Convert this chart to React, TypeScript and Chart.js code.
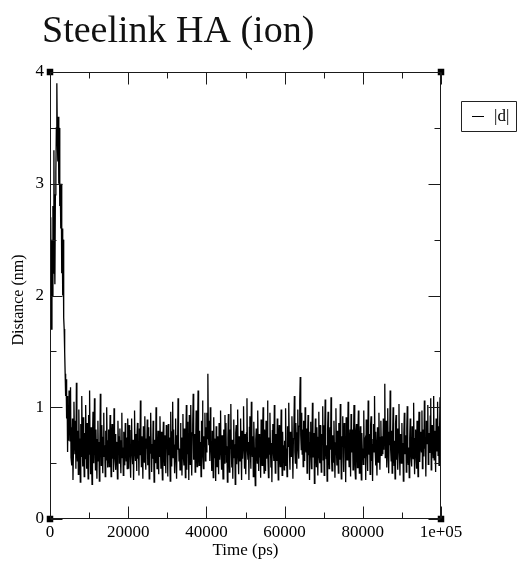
import React, { useEffect, useRef } from 'react';
import { Chart, registerables } from 'chart.js';

Chart.register(...registerables);

const TITLE = 'Steelink HA (ion)';
const X_TITLE = 'Time (ps)';
const Y_TITLE = 'Distance (nm)';
const SERIES_LABEL = '|d|';

const TIME_STEP_PS = 125;
const X_MIN = 0;
const X_MAX = 100000;
const Y_MIN = 0;
const Y_MAX = 4;

const xMajorTicks = [0, 20000, 40000, 60000, 80000, 100000];
const xTickLabels = ['0', '20000', '40000', '60000', '80000', '1e+05'];
const xMinorTicks = [10000, 30000, 50000, 70000, 90000];
const yMajorTicks = [0, 1, 2, 3, 4];
const yTickLabels = ['0', '1', '2', '3', '4'];
const yMinorTicks = [0.5, 1.5, 2.5, 3.5];

// |d| distance (nm), one value every TIME_STEP_PS ps
const distance = [
  // 0 - 4875 ps
  2.3, 1.9, 2.7, 1.7, 2.5, 2.0, 2.8, 2.2, 3.3, 2.4,
  2.1, 2.9, 3.1, 3.5, 3.9, 3.4, 3.2, 3.6, 3.0, 3.5,
  2.8, 3.0, 2.6, 3.0, 2.2, 2.6, 2.0, 2.5, 1.8, 1.7,
  1.5, 1.3, 1.1, 1.25, 0.9, 1.1, 0.6, 1.0, 0.7, 1.15,
  // 5000 - 9875
  0.95, 0.70, 1.18, 0.55, 0.82, 0.48, 0.90, 0.35, 0.62, 1.05,
  0.74, 0.58, 0.88, 0.45, 1.22, 0.66, 0.52, 0.79, 0.40, 0.98,
  0.60, 0.72, 0.33, 0.85, 0.56, 1.10, 0.68, 0.47, 0.91, 0.63,
  0.38, 0.77, 0.54, 1.02, 0.70, 0.45, 0.86, 0.59, 0.36, 0.93,
  // 10000 - 14875
  0.58, 1.15, 0.64, 0.40, 0.82, 0.55, 0.31, 0.73, 0.96, 0.61,
  0.50, 1.08, 0.67, 0.44, 0.80, 0.57, 0.36, 0.71, 0.88, 0.52,
  0.69, 0.34, 0.62, 1.12, 0.75, 0.48, 0.84, 0.59, 0.41, 0.73,
  0.95, 0.56, 0.66, 0.38, 0.79, 0.53, 1.00, 0.63, 0.46, 0.70,
  // 15000 - 19875
  0.80, 0.47, 0.65, 0.93, 0.60, 0.38, 0.72, 0.85, 0.54, 0.66,
  0.42, 0.99, 0.61, 0.53, 0.76, 0.44, 0.69, 0.58, 0.36, 0.88,
  0.63, 0.74, 0.50, 0.81, 0.57, 0.41, 0.70, 0.95, 0.55, 0.64,
  0.39, 0.78, 0.60, 0.48, 0.86, 0.67, 0.52, 0.73, 0.45, 0.90,
  // 20000 - 24875
  0.68, 0.45, 0.84, 0.62, 0.55, 0.37, 0.79, 0.90, 0.58, 0.49,
  0.71, 0.35, 0.66, 0.97, 0.60, 0.52, 0.76, 0.43, 0.70, 0.86,
  0.54, 0.64, 0.39, 0.81, 0.57, 1.06, 0.68, 0.47, 0.74, 0.60,
  0.36, 0.83, 0.65, 0.51, 0.92, 0.58, 0.44, 0.72, 0.63, 0.89,
  // 25000 - 29875
  0.48, 0.82, 0.61, 0.36, 0.74, 0.59, 0.95, 0.66, 0.42, 0.67,
  0.54, 0.88, 0.63, 0.33, 0.71, 0.57, 0.50, 1.00, 0.69, 0.45,
  0.61, 0.79, 0.40, 0.73, 0.56, 0.92, 0.64, 0.45, 0.78, 0.52,
  0.35, 0.70, 0.87, 0.59, 0.48, 0.75, 0.62, 0.41, 0.84, 0.66,
  // 30000 - 34875
  0.69, 0.38, 0.85, 0.57, 0.73, 0.62, 0.34, 0.96, 0.64, 0.47,
  0.78, 1.05, 0.55, 0.80, 0.61, 0.41, 0.66, 0.90, 0.53, 0.36,
  0.75, 0.62, 1.08, 0.70, 0.52, 0.63, 0.44, 0.86, 0.58, 0.73,
  0.39, 0.67, 0.94, 0.56, 0.48, 0.81, 0.65, 0.37, 0.72, 1.02,
  // 35000 - 39875
  0.44, 0.87, 0.58, 0.70, 0.35, 0.93, 0.66, 0.49, 1.02, 0.61,
  0.39, 0.77, 0.84, 1.12, 0.53, 0.71, 0.76, 0.42, 0.64, 0.97,
  0.58, 0.47, 0.82, 1.15, 0.60, 0.48, 0.79, 0.55, 0.69, 0.38,
  0.88, 0.63, 1.06, 0.57, 0.45, 0.74, 0.67, 0.95, 0.52, 0.82,
  // 40000 - 44875
  0.60, 0.95, 0.72, 1.30, 0.80, 0.66, 0.88, 0.52, 1.00, 0.70,
  0.58, 0.43, 0.79, 0.64, 0.37, 0.91, 0.55, 0.72, 0.68, 0.34,
  0.83, 0.59, 0.47, 0.74, 0.62, 0.40, 0.86, 0.53, 0.69, 0.97,
  0.57, 0.44, 0.75, 0.61, 0.36, 0.80, 0.66, 0.50, 0.93, 0.58,
  // 45000 - 49875
  0.86, 0.51, 0.65, 0.33, 0.72, 0.94, 0.57, 0.42, 0.80, 0.63,
  1.03, 0.59, 0.46, 0.71, 0.36, 0.68, 0.89, 0.55, 0.67, 0.31,
  0.77, 0.84, 0.49, 0.62, 0.98, 0.56, 0.40, 0.74, 0.65, 0.52,
  0.90, 0.60, 0.35, 0.79, 0.54, 0.70, 1.01, 0.63, 0.45, 0.76,
  // 50000 - 54875
  0.59, 0.40, 0.77, 1.08, 0.61, 0.53, 0.69, 0.35, 0.82, 0.92,
  0.61, 0.45, 1.05, 0.66, 0.56, 0.74, 0.38, 0.87, 0.64, 0.50,
  0.30, 0.71, 0.81, 0.58, 0.50, 0.97, 0.65, 0.43, 0.76, 0.55,
  0.68, 0.37, 0.89, 0.62, 0.48, 0.73, 1.00, 0.57, 0.41, 0.80,
  // 55000 - 59875
  0.62, 0.43, 0.88, 0.54, 0.70, 1.06, 0.59, 0.37, 0.73, 0.58,
  0.95, 0.64, 0.46, 0.68, 0.33, 0.79, 0.85, 0.60, 0.52, 1.02,
  0.66, 0.41, 0.76, 0.57, 0.52, 0.90, 0.63, 0.35, 0.72, 0.84,
  0.55, 0.47, 0.69, 0.98, 0.61, 0.39, 0.78, 0.56, 0.66, 0.44,
  // 60000 - 64875
  0.70, 0.48, 0.99, 0.63, 0.57, 0.38, 0.83, 0.65, 0.74, 1.04,
  0.58, 0.44, 0.78, 0.62, 0.56, 0.92, 0.67, 0.36, 0.72, 0.81,
  1.10, 0.60, 0.50, 0.86, 0.69, 0.45, 0.77, 0.98, 0.63, 0.54,
  0.83, 1.05, 1.27, 0.75, 0.62, 0.95, 0.58, 0.80, 0.47, 0.88,
  // 65000 - 69875
  0.74, 0.52, 1.00, 0.66, 0.60, 0.81, 0.41, 0.72, 0.93, 0.57,
  0.69, 0.35, 0.78, 0.87, 0.63, 0.45, 0.70, 1.04, 0.55, 0.64,
  0.77, 0.32, 0.68, 0.90, 0.59, 0.47, 0.82, 0.61, 0.39, 0.73,
  0.96, 0.56, 0.50, 0.84, 0.62, 0.42, 0.76, 0.67, 1.01, 0.53,
  // 70000 - 74875
  0.84, 0.39, 0.71, 1.07, 0.62, 0.54, 0.66, 0.34, 0.80, 0.96,
  0.58, 0.45, 0.73, 0.82, 0.62, 1.09, 0.55, 0.43, 0.75, 0.67,
  0.51, 0.88, 0.60, 0.37, 0.68, 0.99, 0.63, 0.48, 0.79, 0.57,
  0.41, 0.86, 0.70, 0.53, 1.03, 0.61, 0.36, 0.74, 0.65, 0.92,
  // 75000 - 79875
  0.56, 0.42, 0.86, 0.64, 0.70, 0.33, 0.91, 0.60, 0.53, 0.73,
  1.05, 0.62, 0.47, 0.69, 0.80, 0.38, 0.94, 0.66, 0.60, 0.80,
  0.44, 0.71, 1.02, 0.57, 0.50, 0.36, 0.78, 0.85, 0.63, 0.46,
  0.75, 0.97, 0.59, 0.41, 0.68, 0.83, 0.54, 0.35, 0.77, 0.61,
  // 80000 - 84875
  0.63, 0.49, 0.97, 0.55, 0.70, 0.72, 0.35, 0.89, 0.61, 0.58,
  0.43, 1.06, 0.66, 0.58, 0.76, 0.40, 0.84, 0.92, 0.52, 0.67,
  0.34, 0.71, 0.85, 0.60, 1.10, 0.64, 0.48, 0.78, 0.56, 0.39,
  0.82, 0.69, 0.51, 0.95, 0.62, 0.44, 0.73, 0.88, 0.57, 0.66,
  // 85000 - 89875
  0.74, 0.58, 0.90, 0.62, 0.83, 1.21, 0.55, 0.70, 0.88, 0.46,
  0.64, 0.99, 0.59, 0.41, 0.78, 0.66, 1.15, 0.62, 0.52, 0.79,
  0.41, 0.73, 1.00, 0.57, 0.48, 0.70, 0.36, 0.85, 0.93, 0.53,
  0.65, 0.81, 0.44, 0.72, 1.03, 0.59, 0.39, 0.76, 0.63, 0.50,
  // 90000 - 94875
  0.86, 0.50, 0.68, 0.34, 0.77, 0.95, 0.58, 0.64, 0.75, 0.42,
  0.81, 1.01, 0.55, 0.49, 0.64, 0.37, 0.72, 0.90, 0.61, 0.53,
  0.47, 0.83, 0.67, 0.54, 1.04, 0.62, 0.40, 0.72, 0.80, 0.56,
  0.45, 0.88, 0.63, 0.38, 0.70, 0.96, 0.59, 0.51, 0.78, 0.66,
  // 95000 - 99875
  0.60, 0.97, 0.45, 0.72, 0.80, 0.56, 1.06, 0.63, 0.70, 0.38,
  0.88, 0.67, 0.70, 1.02, 0.49, 0.61, 0.77, 0.59, 0.92, 1.08,
  0.44, 0.73, 0.84, 0.66, 0.55, 1.10, 0.53, 0.79, 0.68, 0.42,
  0.90, 0.71, 0.61, 1.05, 0.57, 0.83, 0.48, 0.76, 1.09, 0.64,
  // 100000
  0.75,
];

const cornerX = [0, 0, 100000, 100000];
const cornerY = [0, 4, 4, 0];

const FONT = '"Liberation Serif", "Times New Roman", serif';

const decorPlugin = {
  id: 'decor',
  afterDraw(chart: any) {
    const { ctx, chartArea: a, scales } = chart;
    const xs = scales.x;
    const ys = scales.y;
    const L = Math.round(a.left) + 0.5;
    const R = Math.round(a.right) - 0.5;
    const T = Math.round(a.top) + 0.5;
    const B = Math.round(a.bottom) - 0.5;
    ctx.save();
    ctx.strokeStyle = '#1a1a1a';
    ctx.lineWidth = 1;
    ctx.beginPath();
    ctx.rect(L, T, R - L, B - T);
    ctx.stroke();

    const tick = (x1: number, y1: number, x2: number, y2: number) => {
      ctx.moveTo(x1, y1);
      ctx.lineTo(x2, y2);
    };
    ctx.beginPath();
    const MAJ = 12;
    const MIN = 6;
    xMajorTicks.forEach((v) => {
      const px = Math.round(xs.getPixelForValue(v)) + 0.5;
      tick(px, B, px, B - MAJ);
      tick(px, T, px, T + MAJ);
    });
    xMinorTicks.forEach((v) => {
      const px = Math.round(xs.getPixelForValue(v)) + 0.5;
      tick(px, B, px, B - MIN);
      tick(px, T, px, T + MIN);
    });
    yMajorTicks.forEach((v) => {
      const py = Math.round(ys.getPixelForValue(v)) + 0.5;
      tick(L, py, L + MAJ, py);
      tick(R, py, R - MAJ, py);
    });
    yMinorTicks.forEach((v) => {
      const py = Math.round(ys.getPixelForValue(v)) + 0.5;
      tick(L, py, L + MIN, py);
      tick(R, py, R - MIN, py);
    });
    ctx.stroke();

    // title
    ctx.fillStyle = '#111';
    ctx.font = '38px ' + FONT;
    ctx.textAlign = 'left';
    ctx.textBaseline = 'alphabetic';
    ctx.fillText(TITLE, 42, 42);

    // axis titles
    ctx.fillStyle = '#000';
    ctx.font = '17px ' + FONT;
    ctx.textAlign = 'center';
    ctx.fillText(X_TITLE, (a.left + a.right) / 2, 555);
    ctx.save();
    ctx.translate(19, 300);
    ctx.rotate(-Math.PI / 2);
    ctx.font = '16px ' + FONT;
    ctx.textBaseline = 'middle';
    ctx.fillText(Y_TITLE, 0, 0);
    ctx.restore();

    // legend
    const label = chart.data.datasets[0].label;
    ctx.strokeStyle = '#222';
    ctx.beginPath();
    ctx.rect(461.5, 101.5, 55, 30);
    ctx.stroke();
    ctx.strokeStyle = '#000';
    ctx.beginPath();
    ctx.moveTo(472, 116.5);
    ctx.lineTo(484, 116.5);
    ctx.stroke();
    ctx.textAlign = 'left';
    ctx.textBaseline = 'middle';
    ctx.font = '17px ' + FONT;
    ctx.fillText(label, 494, 117);
    ctx.restore();
  },
};

export default function App() {
  const ref = useRef<HTMLCanvasElement | null>(null);
  useEffect(() => {
    const canvas = ref.current;
    if (!canvas) return;
    const seriesPoints = distance.map((d, i) => ({ x: i * TIME_STEP_PS, y: d }));
    const cornerPoints = cornerX.map((x, i) => ({ x, y: cornerY[i] }));
    const chart = new Chart(canvas, {
      type: 'line',
      data: {
        datasets: [
          {
            label: SERIES_LABEL,
            data: seriesPoints,
            borderColor: '#000',
            borderWidth: 1.3,
            pointRadius: 0,
            tension: 0,
            fill: false,
          },
          {
            label: 'corners',
            type: 'scatter',
            data: cornerPoints,
            pointStyle: 'rect',
            pointRadius: 4.6,
            backgroundColor: '#000',
            borderColor: '#000',
            borderWidth: 0,
            clip: false,
          } as any,
        ],
      },
      options: {
        animation: false,
        responsive: false,
        events: [],
        layout: { padding: { top: 72, right: 76, left: 0, bottom: 0 } },
        plugins: {
          legend: { display: false },
          title: { display: false },
          tooltip: { enabled: false },
        },
        scales: {
          x: {
            type: 'linear',
            min: X_MIN,
            max: X_MAX,
            afterFit: (s: any) => {
              s.height = 43;
            },
            afterBuildTicks: (s: any) => {
              s.ticks = xMajorTicks.map((v) => ({ value: v }));
            },
            ticks: {
              autoSkip: false,
              maxRotation: 0,
              padding: 3,
              color: '#000',
              font: { family: FONT, size: 17 },
              callback: (v: any) => {
                const i = xMajorTicks.indexOf(Number(v));
                return i >= 0 ? xTickLabels[i] : '';
              },
            },
            grid: { display: false, drawTicks: false },
            border: { display: false },
          },
          y: {
            type: 'linear',
            min: Y_MIN,
            max: Y_MAX,
            afterFit: (s: any) => {
              s.width = 50;
            },
            afterBuildTicks: (s: any) => {
              s.ticks = yMajorTicks.map((v) => ({ value: v }));
            },
            ticks: {
              autoSkip: false,
              padding: 6,
              color: '#000',
              font: { family: FONT, size: 17 },
              callback: (v: any) => {
                const i = yMajorTicks.indexOf(Number(v));
                return i >= 0 ? yTickLabels[i] : '';
              },
            },
            grid: { display: false, drawTicks: false },
            border: { display: false },
          },
        },
      },
      plugins: [decorPlugin],
    });
    let alive = true;
    const fonts: any = (document as any).fonts;
    if (fonts && fonts.load) {
      Promise.all([fonts.load('17px "Liberation Serif"'), fonts.load('38px "Liberation Serif"')])
        .then(() => {
          if (alive) chart.update();
        })
        .catch(() => {});
    }
    return () => {
      alive = false;
      chart.destroy();
    };
  }, []);
  return (
    <div style={{ position: 'absolute', left: 0, top: 0, width: 517, height: 562, background: '#fff' }}>
      <canvas ref={ref} width={517} height={562} style={{ display: 'block' }} />
    </div>
  );
}
